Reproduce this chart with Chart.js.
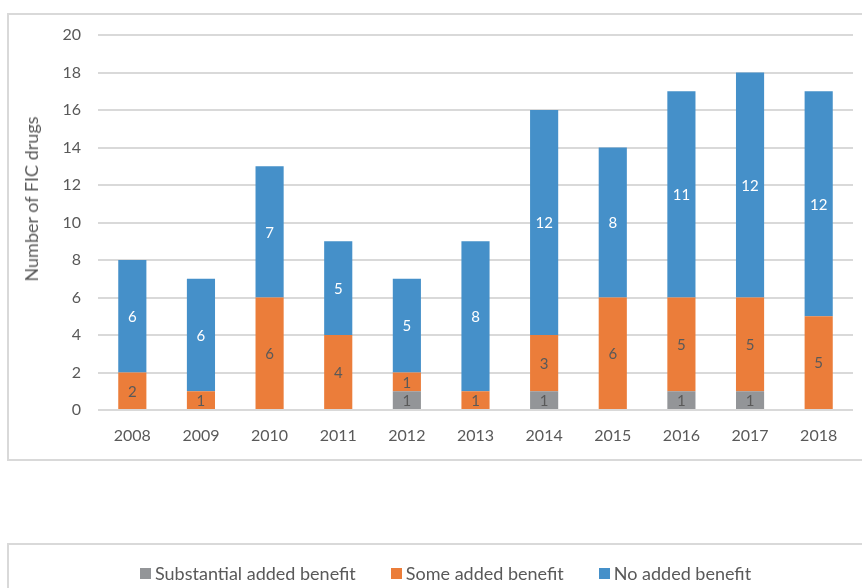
<!DOCTYPE html>
<html>
<head>
<meta charset="utf-8">
<script src="https://cdn.jsdelivr.net/npm/chart.js@4"></script>
<style>
  html, body { margin: 0; padding: 0; background: #fff; }
  body { width: 862px; height: 588px; position: relative; overflow: hidden; font-family: Lato, sans-serif; }
  .box { position: absolute; border-left: 2px solid #d9d9d9; border-top: 2px solid #d9d9d9; }
  #chartBox { left: 7px; top: 13px; width: 880px; height: 444px; border-bottom: 2px solid #d9d9d9; }
  #legendBox { left: 7px; top: 543px; width: 880px; height: 80px; }
  #chartWrap { position: absolute; left: 0; top: 0; width: 862px; height: 588px; }
  #yTitle { position: absolute; left: 31px; top: 199px; transform: translate(-50%, -50%) rotate(-90deg);
            white-space: nowrap; color: #595959; font-size: 18px; line-height: 20px; }
  #legend { position: absolute; left: 140px; top: 563px; display: flex; color: #595959; font-size: 18px; line-height: 21px; }
  #legend .item { display: flex; align-items: center; margin-right: 35px; }
  #legend .sw { width: 11px; height: 11px; margin-right: 4px; }
</style>
</head>
<body>
<div class="box" id="chartBox"></div>
<div class="box" id="legendBox"></div>
<div id="chartWrap"><canvas id="ficChart"></canvas></div>
<div id="yTitle">Number of FIC drugs</div>
<div id="legend"></div>
<script>
// years on the x axis
const years = ['2008', '2009', '2010', '2011', '2012', '2013', '2014', '2015', '2016', '2017', '2018'];

// drug counts per benefit category
const substantialBenefit = [0, 0, 0, 0, 1, 0, 1, 0, 1, 1, 0];
const someBenefit = [2, 1, 6, 4, 1, 1, 3, 6, 5, 5, 5];
const noBenefit = [6, 6, 7, 5, 5, 8, 12, 8, 11, 12, 12];

const yTicks = [0, 2, 4, 6, 8, 10, 12, 14, 16, 18, 20];

const colors = {
  substantial: '#939598',
  some: '#EB7D3A',
  none: '#4590C9'
};
const TEXT_GREY = '#595959';
const FONT = 'Lato, sans-serif';

// draws the value in the middle of each stacked segment
const segmentLabels = {
  id: 'segmentLabels',
  afterDatasetsDraw(chart) {
    const ctx = chart.ctx;
    ctx.save();
    ctx.font = '15px ' + FONT;
    ctx.textAlign = 'center';
    ctx.textBaseline = 'middle';
    chart.data.datasets.forEach((ds, i) => {
      const meta = chart.getDatasetMeta(i);
      meta.data.forEach((bar, j) => {
        const v = ds.data[j];
        if (!v) return;
        ctx.fillStyle = ds.labelColor;
        ctx.fillText(String(v), bar.x, (bar.y + bar.base) / 2 + 1);
      });
    });
    ctx.restore();
  }
};

const chart = new Chart(document.getElementById('ficChart'), {
  type: 'bar',
  data: {
    labels: years,
    datasets: [
      { label: 'Substantial added benefit', data: substantialBenefit, backgroundColor: colors.substantial, labelColor: TEXT_GREY },
      { label: 'Some added benefit', data: someBenefit, backgroundColor: colors.some, labelColor: TEXT_GREY },
      { label: 'No added benefit', data: noBenefit, backgroundColor: colors.none, labelColor: '#ffffff' }
    ]
  },
  options: {
    responsive: true,
    maintainAspectRatio: false,
    animation: false,
    layout: { padding: { top: 35, right: 9, left: 0, bottom: 0 } },
    datasets: {
      bar: { barPercentage: 0.41, categoryPercentage: 1, borderWidth: 0 }
    },
    scales: {
      x: {
        stacked: true,
        grid: { display: false },
        border: { display: false },
        ticks: { color: TEXT_GREY, font: { family: FONT, size: 16 }, padding: 8 },
        afterFit(scale) { scale.height = 178; }
      },
      y: {
        stacked: true,
        min: 0,
        max: 20,
        afterBuildTicks(scale) { scale.ticks = yTicks.map(v => ({ value: v })); },
        grid: { color: '#d9d9d9', lineWidth: 2, drawTicks: false },
        border: { display: false },
        ticks: { color: TEXT_GREY, font: { family: FONT, size: 16 }, padding: 17 },
        afterFit(scale) { scale.width = 98; }
      }
    },
    plugins: {
      legend: { display: false },
      tooltip: { enabled: false }
    }
  },
  plugins: [segmentLabels]
});

// html legend built from the chart's own legend items
const legendEl = document.getElementById('legend');
chart.options.plugins.legend.labels.generateLabels(chart).forEach(item => {
  const el = document.createElement('div');
  el.className = 'item';
  const sw = document.createElement('span');
  sw.className = 'sw';
  sw.style.background = item.fillStyle;
  const txt = document.createElement('span');
  txt.textContent = item.text;
  el.appendChild(sw);
  el.appendChild(txt);
  legendEl.appendChild(el);
});
</script>
</body>
</html>
